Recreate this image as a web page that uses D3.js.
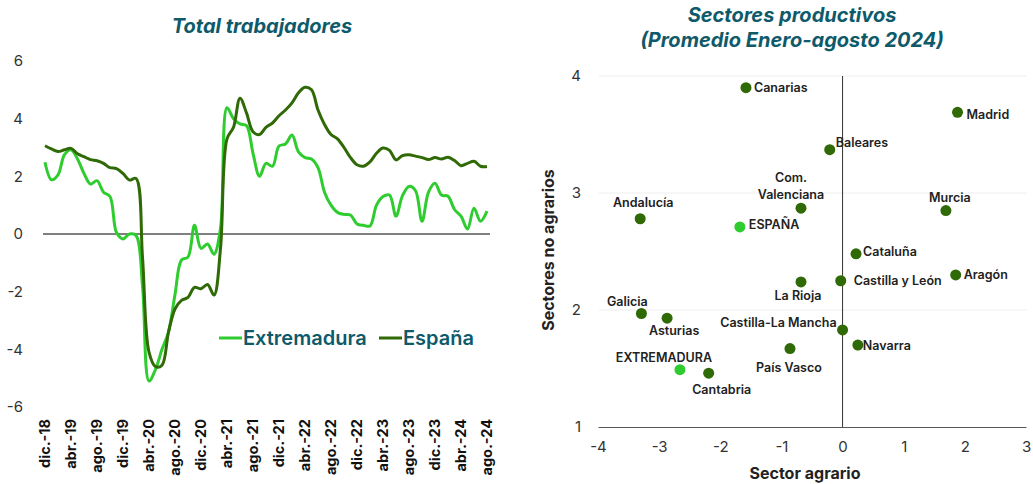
<!DOCTYPE html>
<html>
<head>
<meta charset="utf-8">
<script src="https://cdn.jsdelivr.net/npm/d3@7"></script>
<style>
  body { margin: 0; background: #fff; }
  svg { font-family: Inter, "Open Sans", sans-serif; }
</style>
</head>
<body>
<div id="chart"></div>
<script>
const width = 1033;
const height = 484;
const teal = "#0e5a6a";
const lightGreen = "#2ecc2e";
const darkGreen = "#2f6a06";

// left chart: monthly series, dic-18 .. ago-24
const monthNames = ["ene.", "feb.", "mar.", "abr.", "may.", "jun.", "jul.", "ago.", "sep.", "oct.", "nov.", "dic."];
const months = d3.range(69).map(i => {
  const m = (11 + i) % 12;
  const y = 18 + Math.floor((11 + i) / 12);
  return monthNames[m] + "-" + y;
});
const extremadura = [2.49, 1.88, 2.05, 2.75, 2.92, 2.6, 2.1, 1.73, 1.85, 1.45,
  1.3, 0.05, -0.17, 0.0, -0.05, -1.8, -5.1, -4.7, -4.0, -3.4,
  -2.1, -0.9, -0.8, 0.3, -0.5, -0.35, -0.7, 0.2, 4.38, 4.0,
  3.82, 3.76, 2.8, 2.0, 2.45, 2.35, 3.05, 3.12, 3.43, 2.85,
  2.65, 2.6, 2.3, 1.45, 1.0, 0.75, 0.68, 0.66, 0.35, 0.3,
  0.28, 1.0, 1.3, 1.35, 0.62, 1.33, 1.65, 1.5, 0.44, 1.45,
  1.76, 1.35, 1.31, 0.85, 0.62, 0.17, 0.89, 0.44, 0.79];
const espana = [3.06, 2.95, 2.86, 2.92, 2.97, 2.78, 2.68, 2.58, 2.54, 2.45,
  2.3, 2.27, 2.1, 1.87, 1.93, -0.8, -4.1, -4.6, -4.55, -3.4,
  -2.6, -2.3, -2.2, -1.85, -1.9, -1.75, -2.12, -0.5, 3.3, 3.7,
  4.71, 4.2, 3.55, 3.45, 3.7, 3.85, 4.1, 4.3, 4.55, 4.9,
  5.09, 5.0, 4.3, 3.8, 3.45, 3.3, 3.0, 2.65, 2.4, 2.35,
  2.5, 2.8, 2.98, 2.9, 2.57, 2.72, 2.75, 2.7, 2.65, 2.58,
  2.65, 2.6, 2.66, 2.55, 2.37, 2.45, 2.52, 2.35, 2.34];
const leftTicks = [-6, -4, -2, 0, 2, 4, 6];

// right chart: scatter by region
const regions = ["Canarias", "Madrid", "Baleares", "Com. Valenciana", "Murcia", "Andalucía", "ESPAÑA",
  "Cataluña", "Aragón", "La Rioja", "Castilla y León", "Galicia", "Asturias", "Castilla-La Mancha",
  "Navarra", "País Vasco", "EXTREMADURA", "Cantabria"];
const agrario = [-1.58, 1.88, -0.21, -0.68, 1.69, -3.31, -1.68,
  0.22, 1.85, -0.68, -0.03, -3.29, -2.87, 0.0,
  0.25, -0.86, -2.66, -2.19];
const noAgrario = [3.90, 3.69, 3.37, 2.87, 2.85, 2.78, 2.71,
  2.48, 2.30, 2.24, 2.25, 1.97, 1.93, 1.83,
  1.70, 1.67, 1.49, 1.46];
const xTicksRight = [-4, -3, -2, -1, 0, 1, 2, 3];
const yTicksRight = [1, 2, 3, 4];

// label placement [dx, dy, anchor] relative to each point
const labelPos = {
  "Canarias": [8, 0, "start"],
  "Madrid": [9, 2, "start"],
  "Baleares": [6, -7, "start"],
  "Com. Valenciana": [-10, -22, "middle"],
  "Murcia": [4, -13, "middle"],
  "Andalucía": [3, -16, "middle"],
  "ESPAÑA": [9, -2, "start"],
  "Cataluña": [7, -2, "start"],
  "Aragón": [8, 0, "start"],
  "La Rioja": [-3, 14, "middle"],
  "Castilla y León": [13, 0, "start"],
  "Galicia": [-14, -12, "middle"],
  "Asturias": [7, 12, "middle"],
  "Castilla-La Mancha": [-6, -7, "end"],
  "Navarra": [5, 0, "start"],
  "País Vasco": [-1, 19, "middle"],
  "EXTREMADURA": [-16, -12, "middle"],
  "Cantabria": [13, 16, "middle"]
};

const plain = d => String(d); // hyphen minus, no decimals

const svg = d3.select("#chart").append("svg")
  .attr("width", width)
  .attr("height", height);

// ---------- left chart ----------
const x1 = d3.scaleLinear().domain([0, months.length - 1]).range([45, 487]);
const y1 = d3.scaleLinear().domain([-6, 6]).range([407, 61]);

const left = svg.append("g");

left.append("text")
  .attr("x", 262).attr("y", 33)
  .attr("text-anchor", "middle")
  .attr("fill", teal)
  .style("font-size", "20px").style("font-weight", "700").style("font-style", "italic")
  .text("Total trabajadores");

left.append("g")
  .attr("transform", "translate(23,0)")
  .call(d3.axisLeft(y1).tickValues(leftTicks).tickSize(0).tickPadding(0).tickFormat(plain))
  .call(g => g.select(".domain").remove())
  .selectAll("text")
  .style("font-size", "15px").style("font-family", "Inter, sans-serif")
  .attr("fill", "#333");

left.append("line")
  .attr("x1", 43).attr("x2", 490)
  .attr("y1", y1(0)).attr("y2", y1(0))
  .attr("stroke", "#808080").attr("stroke-width", 2);

left.append("g")
  .selectAll("text")
  .data(months.filter((d, i) => i % 4 === 0))
  .join("text")
  .attr("transform", (d, i) => `translate(${x1(i * 4) + 5},419) rotate(-90)`)
  .attr("text-anchor", "end")
  .attr("fill", "#111")
  .style("font-size", "14.5px").style("font-weight", "700")
  .text(d => d);

const line1 = d3.line()
  .x((d, i) => x1(i))
  .y(d => y1(d))
  .curve(d3.curveCatmullRom.alpha(0.5));

left.append("path").datum(extremadura)
  .attr("d", line1).attr("fill", "none")
  .attr("stroke", lightGreen).attr("stroke-width", 3);
left.append("path").datum(espana)
  .attr("d", line1).attr("fill", "none")
  .attr("stroke", darkGreen).attr("stroke-width", 3);

// legend
const legend = [["Extremadura", lightGreen, 219], ["España", darkGreen, 379]];
legend.forEach(([name, color, lx]) => {
  left.append("line")
    .attr("x1", lx).attr("x2", lx + 23)
    .attr("y1", 338).attr("y2", 338)
    .attr("stroke", color).attr("stroke-width", 3);
  left.append("text")
    .attr("x", lx + 24).attr("y", 345)
    .attr("fill", teal)
    .style("font-size", "20px").style("font-weight", "600")
    .text(name);
});

// ---------- right chart ----------
const x2 = d3.scaleLinear().domain([-4, 3]).range([598, 1026]);
const y2 = d3.scaleLinear().domain([1, 4]).range([427, 76]);

const right = svg.append("g");

right.append("text")
  .attr("text-anchor", "middle")
  .attr("fill", teal)
  .style("font-size", "20px").style("font-weight", "700").style("font-style", "italic")
  .selectAll("tspan")
  .data(["Sectores productivos", "(Promedio Enero-agosto 2024)"])
  .join("tspan")
  .attr("x", 792)
  .attr("y", (d, i) => 22 + i * 25)
  .text(d => d);

// gridlines
right.append("g")
  .selectAll("line")
  .data(yTicksRight.filter(d => d > 1))
  .join("line")
  .attr("x1", 599).attr("x2", 1027)
  .attr("y1", d => y2(d)).attr("y2", d => y2(d))
  .attr("stroke", "#eeeeee").attr("stroke-width", 1);

right.append("g")
  .attr("transform", "translate(581,0)")
  .call(d3.axisLeft(y2).tickValues(yTicksRight).tickSize(0).tickPadding(0).tickFormat(plain))
  .call(g => g.select(".domain").remove())
  .selectAll("text")
  .style("font-size", "15px").style("font-family", "Inter, sans-serif")
  .attr("fill", "#333");

right.append("g")
  .attr("transform", `translate(0,${y2(1)})`)
  .call(d3.axisBottom(x2).tickValues(xTicksRight).tickSize(0).tickPadding(14).tickFormat(plain))
  .call(g => g.select(".domain").attr("stroke", "#555").attr("stroke-width", 1.2))
  .selectAll("text")
  .style("font-size", "15px").style("font-family", "Inter, sans-serif")
  .attr("fill", "#333");

right.append("line")
  .attr("x1", x2(0)).attr("x2", x2(0))
  .attr("y1", y2(4)).attr("y2", y2(1))
  .attr("stroke", "#333").attr("stroke-width", 1);

right.append("text")
  .attr("transform", "translate(554,250) rotate(-90)")
  .attr("text-anchor", "middle")
  .attr("fill", "#222")
  .style("font-size", "16px").style("font-weight", "700")
  .text("Sectores no agrarios");

right.append("text")
  .attr("x", 805).attr("y", 479)
  .attr("text-anchor", "middle")
  .attr("fill", "#222")
  .style("font-size", "16px").style("font-weight", "700")
  .text("Sector agrario");

const points = regions.map((name, i) => ({ name, x: agrario[i], y: noAgrario[i] }));

right.append("g")
  .selectAll("circle")
  .data(points)
  .join("circle")
  .attr("cx", d => x2(d.x))
  .attr("cy", d => y2(d.y))
  .attr("r", 5.5)
  .attr("fill", d => (d.name === "ESPAÑA" || d.name === "EXTREMADURA") ? lightGreen : darkGreen);

const labels = right.append("g")
  .style("font-size", "12.5px").style("font-weight", "600")
  .attr("fill", "#222");

points.forEach(d => {
  const [dx, dy, anchor] = labelPos[d.name];
  const t = labels.append("text")
    .attr("text-anchor", anchor)
    .attr("dominant-baseline", "central");
  if (d.name === "Com. Valenciana") {
    ["Com.", "Valenciana"].forEach((s, k) => {
      t.append("tspan")
        .attr("x", x2(d.x) + dx)
        .attr("y", y2(d.y) + dy - 9 + k * 17)
        .text(s);
    });
  } else {
    t.attr("x", x2(d.x) + dx).attr("y", y2(d.y) + dy).text(d.name);
  }
});
</script>
</body>
</html>
